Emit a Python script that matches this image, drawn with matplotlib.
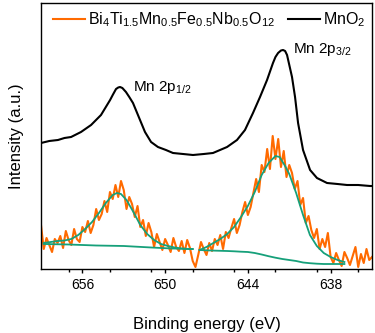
import numpy as np
import matplotlib
matplotlib.use("Agg")
import matplotlib.pyplot as plt
from matplotlib.ticker import MultipleLocator

plt.rcParams['font.family'] = ['Liberation Sans', 'DejaVu Sans']
plt.rcParams['mathtext.fontset'] = 'custom'
plt.rcParams['mathtext.rm'] = 'Liberation Sans'
plt.rcParams['mathtext.it'] = 'Liberation Sans:italic'
plt.rcParams['mathtext.bf'] = 'Liberation Sans:bold'

# ---- data ----
# Bi4Ti1.5Mn0.5Fe0.5Nb0.5O12 raw spectrum, 659.0 -> 635.0 eV in 0.2 eV steps
orange_E = np.linspace(659.0, 635.0, 121)
orange_I = [44, 20, 31, 24, 17, 30, 26, 33, 21, 38,
            29, 24, 40, 30, 27, 42, 37, 48, 36, 44,
            60, 49, 55, 68, 57, 77, 70, 84, 72, 88,
            79, 60, 72, 65, 52, 63, 42, 49, 33, 46,
            37, 22, 35, 27, 19, 30, 24, 17, 31, 22,
            18, 28, 16, 29, 21, 8, 2, 14, 27, 20,
            14, 26, 18, 30, 24, 34, 20, 37, 31, 41,
            50, 36, 44, 57, 67, 54, 62, 76, 90, 77,
            104, 97, 120, 100, 133, 110, 130, 102, 118, 92,
            104, 96, 80, 88, 64, 71, 46, 53, 39, 31,
            40, 20, 30, 22, 36, 12, 6, 16, 9, 3,
            17, 11, 4, 13, 22, 2, 15, 6, 20, 9, 12]

# MnO2 spectrum
mno2_E = [659.0, 658.4, 657.77, 657.3, 656.82, 656.10, 655.37, 654.65, 653.99, 653.8,
          653.56, 653.4, 653.27, 653.1, 652.84, 652.6, 652.33, 651.82, 651.46, 651.02,
          650.52, 649.94, 649.43, 648.7, 647.98, 647.2, 646.53, 645.51, 644.79, 644.21,
          643.63, 643.12, 642.61, 642.18, 642.0, 641.81, 641.6, 641.45, 641.3, 641.16,
          640.80, 640.58, 640.36, 640.0, 639.49, 638.99, 638.26, 637.5, 636.81, 636.0,
          635.14, 635.0]
mno2_I = [126, 128, 129, 131, 132, 137, 144, 154, 169, 174,
          180, 181.5, 182, 181, 177, 172, 166, 149, 137, 127,
          122, 119, 116, 115, 114, 115, 116, 122, 129, 139,
          156, 172, 189, 206, 212, 216, 218.5, 219, 218, 214,
          192, 172, 146, 119, 99, 91, 86, 85, 84, 84,
          83, 83]

# Fitted envelopes (two regions)
fit1_E = [658.8, 658.3, 657.8, 657.3, 656.8, 656.3, 655.8, 655.3, 654.8, 654.3,
          653.8, 653.5, 653.2, 652.8, 652.3, 651.8, 651.3, 650.8, 650.3, 649.8,
          649.3, 648.8, 648.3, 648.0]
fit1_I = [26, 27, 28, 28.5, 30, 34, 40, 47, 56, 66,
          74, 76, 75, 69, 57, 44, 35, 29, 25, 23,
          21.5, 20.5, 20, 20]
fit2_E = [647.5, 647.0, 646.5, 646.0, 645.5, 645.0, 644.5, 644.0, 643.5, 643.0,
          642.5, 642.0, 641.7, 641.3, 641.0, 640.5, 640.0, 639.5, 639.0, 638.5,
          638.0, 637.5, 637.0]
fit2_I = [19, 22, 26, 30, 35, 42, 52, 63, 77, 94,
          106, 113, 112, 103, 95, 76, 54, 34, 23, 16,
          12, 9, 7]

# Backgrounds
bg1_E = [658.8, 657.0, 655.0, 653.0, 651.0, 649.5, 648.0]
bg1_I = [25, 24.5, 23.5, 23, 21.5, 20.5, 20]
bg2_E = [647.5, 647.0, 646.5, 646.0, 645.5, 645.0, 644.5, 644.0, 643.5, 643.0,
         642.5, 642.0, 641.5, 641.0, 640.5, 640.0, 639.5, 639.0, 638.5, 638.0,
         637.5, 637.0]
bg2_I = [19, 18.7, 18.4, 18.2, 18, 17.7, 17.3, 17, 16, 14.5,
         12.8, 11.3, 10, 9, 8, 6.5, 5.8, 5.3, 5, 5,
         5, 5]

major_ticks = [656, 650, 644, 638]

ORANGE = '#FF6A00'
GREEN = '#16A07A'

fig = plt.figure(figsize=(3.75, 3.33), dpi=100)
ax = fig.add_axes([41/375, 1-269/333, 331/375, 266/333])

ax.plot(orange_E, orange_I, color=ORANGE, lw=1.5,
        label=r'Bi$_4$Ti$_{1.5}$Mn$_{0.5}$Fe$_{0.5}$Nb$_{0.5}$O$_{12}$')
ax.plot(mno2_E, mno2_I, color='black', lw=1.5, label=r'MnO$_2$')
ax.plot(fit1_E, fit1_I, color=GREEN, lw=1.3)
ax.plot(fit2_E, fit2_I, color=GREEN, lw=1.3)
ax.plot(bg1_E, bg1_I, color=GREEN, lw=1.3)
ax.plot(bg2_E, bg2_I, color=GREEN, lw=1.3)

ax.set_xlim(659, 635)
ax.set_ylim(0, 266)
ax.set_xticks(major_ticks)
ax.xaxis.set_minor_locator(MultipleLocator(3))
ax.tick_params(axis='x', which='major', direction='out', length=3.2, width=1, labelsize=10, pad=3)
ax.tick_params(axis='x', which='minor', direction='out', length=1.8, width=1)
ax.set_yticks([])
for s in ax.spines.values():
    s.set_linewidth(1.0)

ax.set_xlabel('Binding energy (eV)', fontsize=12, labelpad=18)
ax.set_ylabel('Intensity (a.u.)', fontsize=12, labelpad=12)

ax.text(652.33, 181, r'Mn 2p$_{1/2}$', fontsize=11, ha='left', va='center')
ax.text(640.73, 219, r'Mn 2p$_{3/2}$', fontsize=11, ha='left', va='center')

ax.legend(loc='center left', bbox_to_anchor=(0.036, 0.936), ncol=2, frameon=False,
          fontsize=11.5, handlelength=2.0, handletextpad=0.2, columnspacing=0.8,
          borderpad=0, borderaxespad=0)

fig.savefig('out.png', dpi=100)
